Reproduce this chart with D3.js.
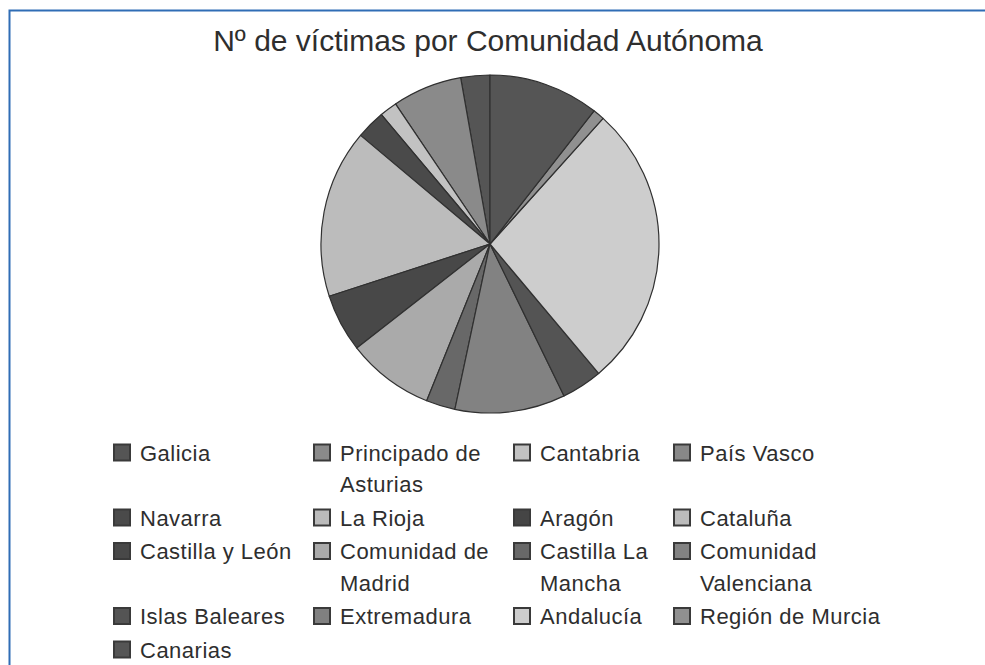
<!DOCTYPE html>
<html>
  <head>
    <meta charset="utf-8">
    <title>Nº de víctimas por Comunidad Autónoma</title>
    <script type="text/javascript" src="https://cdn.jsdelivr.net/npm/d3@7/dist/d3.min.js"></script>
    <style type="text/css">
      body { margin: 0; background: #fff; }
      svg { display: block; font-family: "Liberation Sans", Arial, sans-serif; }
      .legend text { font-size: 22px; fill: #2e2e2e; letter-spacing: 0.5px; }
    </style>
  </head>
  <body>
    <script type="text/javascript">
    // data (counts, pie drawn counter-clockwise from 12 o'clock)
    var regions = ["Galicia", "Principado de Asturias", "Cantabria", "País Vasco",
                   "Navarra", "La Rioja", "Aragón", "Cataluña",
                   "Castilla y León", "Comunidad de Madrid", "Castilla La Mancha", "Comunidad Valenciana",
                   "Islas Baleares", "Extremadura", "Andalucía", "Región de Murcia",
                   "Canarias"];
    var victims = [5, 12, 3, 0,
                   5, 0, 0, 29,
                   10, 15, 5, 19,
                   7, 0, 49, 2,
                   19];
    // legend labels split the way the picture wraps them
    var legendLines = [["Galicia"], ["Principado de", "Asturias"], ["Cantabria"], ["País Vasco"],
                       ["Navarra"], ["La Rioja"], ["Aragón"], ["Cataluña"],
                       ["Castilla y León"], ["Comunidad de", "Madrid"], ["Castilla La", "Mancha"], ["Comunidad", "Valenciana"],
                       ["Islas Baleares"], ["Extremadura"], ["Andalucía"], ["Región de Murcia"],
                       ["Canarias"]];
    var greys = ["#555555", "#8a8a8a", "#c2c2c2", "#888888",
                 "#4a4a4a", "#bbbbbb", "#454545", "#bcbcbc",
                 "#484848", "#aaaaaa", "#686868", "#828282",
                 "#545454", "#808080", "#cdcdcd", "#909090",
                 "#555555"];

    var W = 985, H = 665;
    var svg = d3.select("body").append("svg")
        .attr("width", W)
        .attr("height", H);

    // blue frame (top and left edges only)
    svg.append("path")
        .attr("d", "M9.5," + H + "V10.5H" + W)
        .attr("fill", "none")
        .attr("stroke", "#2f6db5")
        .attr("stroke-width", 2);

    svg.append("text")
        .attr("x", 488)
        .attr("y", 51)
        .attr("text-anchor", "middle")
        .style("font-size", "30px")
        .style("fill", "#2e2e2e")
        .text("Nº de víctimas por Comunidad Autónoma");

    var color = d3.scaleOrdinal().domain(regions).range(greys);

    var pie = d3.pie()
        .sort(null)
        .startAngle(0)
        .endAngle(-2 * Math.PI)
        .value(function(d, i) { return victims[i]; });

    var arc = d3.arc().innerRadius(0).outerRadius(169);

    var g = svg.append("g").attr("transform", "translate(490,244)");
    g.selectAll("path")
        .data(pie(regions).filter(function(d) { return d.value > 0; }))
        .enter()
        .append("path")
        .attr("d", arc)
        .attr("fill", function(d) { return color(d.data); })
        .attr("stroke", "#303030")
        .attr("stroke-width", 1.2)
        .attr("stroke-linejoin", "round");

    // legend: 4 columns, rows as tall as their tallest label
    var colX = [113, 313, 513, 673];
    var lineH = 31.5, rowGap = 2;
    var rowY = [], y = 460.5;
    for (var r = 0; r * 4 < regions.length; r++) {
        rowY.push(y);
        var n = 1;
        for (var c = 0; c < 4 && r * 4 + c < regions.length; c++) {
            n = Math.max(n, legendLines[r * 4 + c].length);
        }
        y += n * lineH + rowGap;
    }

    var items = svg.append("g").attr("class", "legend")
        .selectAll("g")
        .data(regions)
        .enter()
        .append("g")
        .attr("transform", function(d, i) {
            return "translate(" + colX[i % 4] + "," + rowY[Math.floor(i / 4)] + ")";
        });

    items.append("rect")
        .attr("x", 1)
        .attr("y", -16)
        .attr("width", 16)
        .attr("height", 16)
        .attr("fill", function(d) { return color(d); })
        .attr("stroke", "#3a3a3a")
        .attr("stroke-width", 2);

    items.append("text")
        .attr("x", 27)
        .selectAll("tspan")
        .data(function(d, i) { return legendLines[i]; })
        .enter()
        .append("tspan")
        .attr("x", 27)
        .attr("y", function(d, j) { return j * lineH; })
        .text(function(d) { return d; });
    </script>
  </body>
</html>
